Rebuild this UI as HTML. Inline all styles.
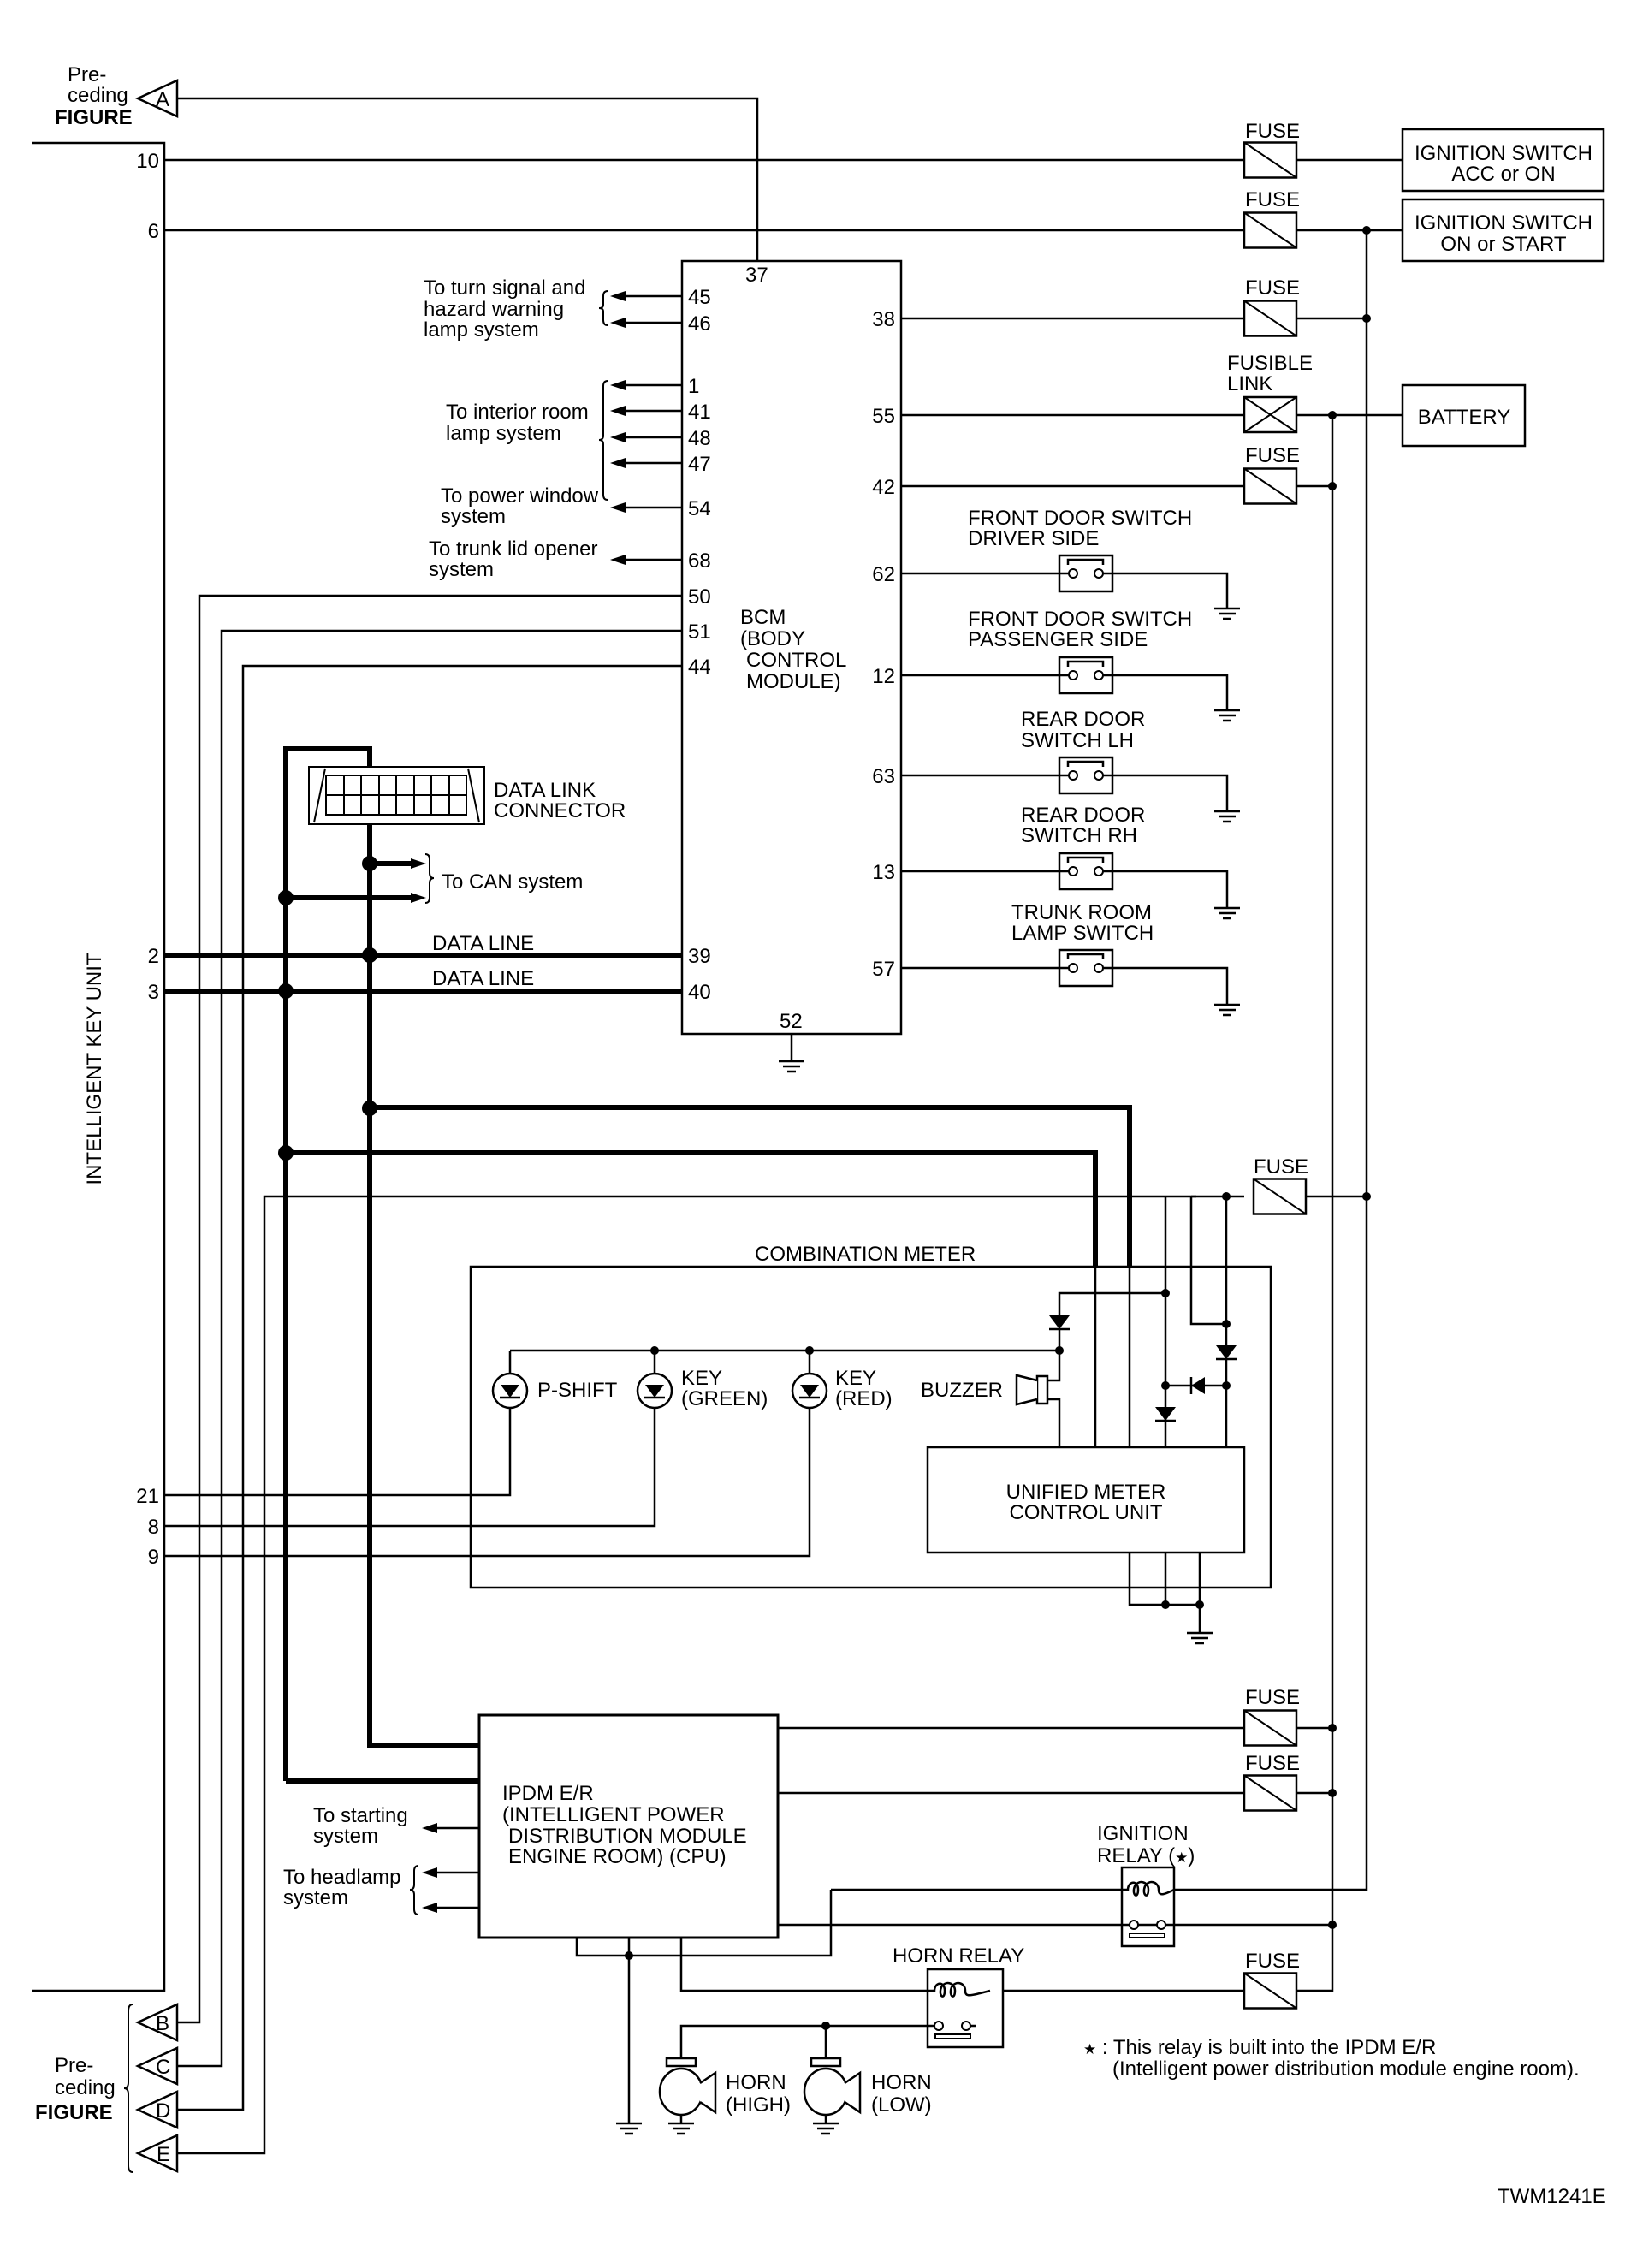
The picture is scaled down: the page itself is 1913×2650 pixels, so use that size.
<!DOCTYPE html>
<html><head><meta charset="utf-8"><style>
html,body{margin:0;padding:0;background:#fff;}
svg{display:block;}
text{font-family:"Liberation Sans",Arial,sans-serif;font-size:24px;fill:#000;}
.b{font-weight:bold;}
</style></head><body>
<svg width="1913" height="2650" viewBox="0 0 1913 2650" xmlns="http://www.w3.org/2000/svg">
<defs>
<g id="gnd"><path d="M-15 0H15M-10 6H10M-5 12H5" stroke="#000" stroke-width="2.5" fill="none"/></g>
<g id="fuse"><rect x="0" y="-20.5" width="61" height="41" fill="#fff" stroke="#000" stroke-width="2.5"/><path d="M0 -20.5L61 20.5" stroke="#000" stroke-width="2"/></g>
<g id="sw"><rect x="-31" y="-21" width="62" height="42" fill="#fff" stroke="#000" stroke-width="2.5"/><path d="M-31 0H-20M20 0H31M-21 -10V-16H20V-10" stroke="#000" stroke-width="2.5" fill="none"/><circle cx="-15" cy="0" r="5" fill="#fff" stroke="#000" stroke-width="2"/><circle cx="15" cy="0" r="5" fill="#fff" stroke="#000" stroke-width="2"/></g>
<g id="dd"><path d="M-12 -8H12L0 8Z" fill="#000"/><path d="M-12 8H12" stroke="#000" stroke-width="2.5"/></g>
<g id="lamp"><circle r="20" fill="#fff" stroke="#000" stroke-width="2.5"/><path d="M-11 -7H11L0 8Z" fill="#000"/><path d="M-12 8H12" stroke="#000" stroke-width="2.5"/></g>
<g id="dot"><circle r="5" fill="#000"/></g>
<g id="bdot"><circle r="9" fill="#000"/></g>
<g id="al"><path d="M0 0L18 -6L18 6Z" fill="#000"/></g>
<g id="ar"><path d="M0 0L-18 -6L-18 6Z" fill="#000"/></g>
<g id="horn"><rect x="-17" y="-39" width="34" height="9" fill="#fff" stroke="#000" stroke-width="2.5"/><ellipse cx="0" cy="0" rx="25" ry="27" fill="#fff" stroke="#000" stroke-width="2.5"/><path d="M22 -10L40 -22V24L22 12" fill="#fff" stroke="#000" stroke-width="2.5"/><path d="M0 27V37" stroke="#000" stroke-width="2.5"/><use href="#gnd" y="37"/></g>
<g id="tri"><path d="M0 0L46 -21V21Z" fill="#fff" stroke="#000" stroke-width="2.5"/></g>
</defs>

<g stroke="#000" stroke-width="2.5" fill="none">
<path d="M37 167H192V2326H37"/>
<path d="M207 115H885V305"/>
<path d="M192 187H1454M1515 187H1639"/>
<path d="M192 269H1454M1515 269H1639"/>
<rect x="797" y="305" width="256" height="903"/>
<path d="M1053 372H1454M1515 372H1597"/>
<path d="M1053 485H1454M1515 485H1639"/>
<path d="M1053 568H1454M1515 568H1557"/>
<path d="M1597 269V2208H1372"/>
<path d="M1557 485V2326H1515"/>
<path d="M1053 670H1238M1300 670H1434V711"/>
<path d="M1053 789H1238M1300 789H1434V830"/>
<path d="M1053 906H1238M1300 906H1434V948"/>
<path d="M1053 1018H1238M1300 1018H1434V1061"/>
<path d="M1053 1131H1238M1300 1131H1434V1174"/>
<path d="M797 346H720M797 377H720M797 450H720M797 480H720M797 511H720M797 541H720M797 593H720M797 654H720"/>
<path d="M797 696H233V2363H207"/>
<path d="M797 737H259V2414H207"/>
<path d="M797 778H284V2465H207"/>
<path d="M1398 1398H309V2516H207"/>
<path d="M925 1208V1240"/>
<rect x="550" y="1480" width="935" height="375"/>
<path d="M596 1578H1238M596 1578V1605M765 1578V1605M946 1578V1605"/>
<path d="M596 1645V1747H192M765 1645V1783H192M946 1645V1818H192"/>
<path d="M1362 1511H1238V1613H1224M1224 1635H1238V1691"/>
<path d="M1362 1398V1691M1392 1398V1547H1433M1433 1398V1691M1392 1398H1454M1526 1398H1597"/>
<path d="M1362 1619H1433"/>
<path d="M1280 1480V1691M1320 1480V1691"/>
<rect x="1084" y="1691" width="370" height="123" fill="#fff"/>
<path d="M1320 1814V1875H1402M1362 1814V1875M1402 1814V1908"/>
<rect x="560" y="2004" width="349" height="260" stroke-width="3"/>
<path d="M909 2019H1454M1515 2019H1557M909 2095H1454M1515 2095H1557"/>
<path d="M909 2249H1311M1372 2249H1557"/>
<path d="M971 2208H1311M971 2208V2285H674V2264M735 2264V2481"/>
<path d="M796 2264V2326H1084M1172 2326H1454"/>
<path d="M1157 2326V2367H1140M1084 2367H796V2405M965 2367V2405"/>
<path d="M560 2136H505M560 2188H505M560 2229H505"/>
</g>
<g stroke="#000" stroke-width="6" fill="none">
<path d="M334 2081V875H432V896"/>
<path d="M334 2081H560M432 963V2040H560"/>
<path d="M192 1116H797M192 1158H797"/>
<path d="M432 1294H1320V1480"/>
<path d="M334 1347H1280V1480"/>
<path d="M432 1009H480M334 1049H480"/>
</g>
<use href="#al" x="713" y="346"/><use href="#al" x="713" y="377"/><use href="#al" x="713" y="450"/><use href="#al" x="713" y="480"/><use href="#al" x="713" y="511"/><use href="#al" x="713" y="541"/><use href="#al" x="713" y="593"/><use href="#al" x="713" y="654"/>
<use href="#ar" x="498" y="1009"/><use href="#ar" x="498" y="1049"/>
<use href="#al" x="493" y="2136"/><use href="#al" x="493" y="2188"/><use href="#al" x="493" y="2229"/>

<use href="#fuse" x="1454" y="187"/><use href="#fuse" x="1454" y="269"/><use href="#fuse" x="1454" y="372"/><use href="#fuse" x="1454" y="568"/>
<use href="#fuse" x="1465" y="1398"/>
<use href="#fuse" x="1454" y="2019"/><use href="#fuse" x="1454" y="2095"/><use href="#fuse" x="1454" y="2326"/>
<g><rect x="1454" y="464" width="61" height="41" fill="#fff" stroke="#000" stroke-width="2.5"/><path d="M1454 464L1515 505M1515 464L1454 505" stroke="#000" stroke-width="2"/></g>
<use href="#sw" x="1269" y="670"/><use href="#sw" x="1269" y="789"/><use href="#sw" x="1269" y="906"/><use href="#sw" x="1269" y="1018"/><use href="#sw" x="1269" y="1131"/>
<use href="#gnd" x="1434" y="711"/><use href="#gnd" x="1434" y="830"/><use href="#gnd" x="1434" y="948"/><use href="#gnd" x="1434" y="1061"/><use href="#gnd" x="1434" y="1174"/>
<use href="#gnd" x="925" y="1240"/><use href="#gnd" x="1402" y="1908"/><use href="#gnd" x="735" y="2481"/>
<g fill="none" stroke="#000" stroke-width="2.5">
<rect x="1639" y="151" width="235" height="72"/>
<rect x="1639" y="233" width="235" height="72"/>
<rect x="1639" y="450" width="143" height="71"/>
</g>
<use href="#dot" x="1597" y="269"/><use href="#dot" x="1597" y="372"/><use href="#dot" x="1557" y="485"/><use href="#dot" x="1557" y="568"/>
<use href="#dot" x="1433" y="1398"/><use href="#dot" x="1597" y="1398"/>
<use href="#dot" x="1362" y="1511"/><use href="#dot" x="1238" y="1578"/><use href="#dot" x="765" y="1578"/><use href="#dot" x="946" y="1578"/>
<use href="#dot" x="1433" y="1547"/><use href="#dot" x="1362" y="1619"/><use href="#dot" x="1433" y="1619"/>
<use href="#dot" x="1362" y="1875"/><use href="#dot" x="1402" y="1875"/>
<use href="#dot" x="1557" y="2019"/><use href="#dot" x="1557" y="2095"/><use href="#dot" x="1557" y="2249"/>
<use href="#dot" x="735" y="2285"/><use href="#dot" x="1157" y="2326"/><use href="#dot" x="965" y="2367"/>
<use href="#bdot" x="432" y="1009"/><use href="#bdot" x="334" y="1049"/><use href="#bdot" x="432" y="1116"/><use href="#bdot" x="334" y="1158"/><use href="#bdot" x="432" y="1295"/><use href="#bdot" x="334" y="1347"/>
<use href="#dd" x="1238" y="1545"/><use href="#dd" x="1433" y="1580"/><use href="#dd" x="1362" y="1652"/>
<g><path d="M1392 1619L1408 1609V1629Z" fill="#000"/><path d="M1392 1609V1629" stroke="#000" stroke-width="2.5"/></g>
<use href="#lamp" x="596" y="1625"/><use href="#lamp" x="765" y="1625"/><use href="#lamp" x="946" y="1625"/>
<rect x="1212" y="1608" width="12" height="32" fill="#fff" stroke="#000" stroke-width="2.5"/>
<path d="M1212 1613L1188 1607V1641L1212 1635" fill="#fff" stroke="#000" stroke-width="2.5"/>
<g fill="#fff" stroke="#000" stroke-width="2">
<rect x="361" y="896" width="205" height="67"/>
<path d="M380 898L367 961M547 898L560 961"/>
<rect x="381" y="906" width="164" height="46"/>
<path d="M381 929H545M402 906V952M422 906V952M443 906V952M463 906V952M484 906V952M504 906V952M525 906V952"/>
</g>
<g fill="#fff" stroke="#000" stroke-width="2.5">
<rect x="1311" y="2182" width="61" height="92"/>
<rect x="1084" y="2301" width="88" height="91"/>
</g>
<g fill="none" stroke="#000" stroke-width="2.5">
<path d="M1311 2208H1318C1318 2198 1330 2196 1330 2208C1330 2220 1322 2214 1326 2204C1330 2196 1342 2198 1342 2208C1342 2220 1334 2214 1338 2204C1342 2196 1354 2198 1354 2208C1354 2216 1360 2214 1372 2208"/>
<path d="M1311 2249H1320M1330 2249H1352M1362 2249H1372"/>
<path d="M1084 2326H1092C1092 2316 1104 2314 1104 2326C1104 2338 1096 2332 1100 2322C1104 2314 1116 2316 1116 2326C1116 2338 1108 2332 1112 2322C1116 2314 1128 2316 1128 2326C1128 2334 1134 2332 1157 2326"/>
<path d="M1084 2367H1092M1134 2367H1140"/>
</g>
<g fill="#fff" stroke="#000" stroke-width="2"><circle cx="1325" cy="2249" r="5"/><circle cx="1357" cy="2249" r="5"/><circle cx="1097" cy="2367" r="5"/><circle cx="1129" cy="2367" r="5"/><rect x="1320" y="2259" width="41" height="5"/><rect x="1093" y="2377" width="41" height="5"/></g>
<use href="#horn" x="796" y="2444"/><use href="#horn" x="965" y="2444"/>
<use href="#tri" x="161" y="115"/><use href="#tri" x="161" y="2363"/><use href="#tri" x="161" y="2414"/><use href="#tri" x="161" y="2465"/><use href="#tri" x="161" y="2516"/>
<text x="182" y="124" font-size="23">A</text><text x="182" y="2372" font-size="23">B</text><text x="182" y="2423" font-size="23">C</text><text x="182" y="2474" font-size="23">D</text><text x="183" y="2525" font-size="23">E</text>
<g fill="none" stroke="#000" stroke-width="2">
<path d="M710 340Q705 340 705 346V356Q705 360 700 360Q705 360 705 364V374Q705 380 710 380"/>
<path d="M710 445Q705 445 705 451V509Q705 514 700 514Q705 514 705 519V578Q705 584 710 584"/>
<path d="M497 998Q502 998 502 1004V1020Q502 1026 507 1026Q502 1026 502 1032V1049Q502 1055 497 1055"/>
<path d="M489 2180Q484 2180 484 2186V2202Q484 2208 479 2208Q484 2208 484 2214V2231Q484 2237 489 2237"/>
<path d="M155 2342Q150 2342 150 2350V2433Q150 2440 145 2440Q150 2440 150 2447V2530Q150 2538 155 2538"/>
</g>

<text x="79" y="95">Pre-</text><text x="79" y="119">ceding</text><text x="64" y="145" class="b">FIGURE</text>
<text x="64" y="2421">Pre-</text><text x="64" y="2447">ceding</text><text x="41" y="2476" class="b">FIGURE</text>
<g text-anchor="end"><text x="186" y="196">10</text><text x="186" y="278">6</text><text x="186" y="1125">2</text><text x="186" y="1167">3</text><text x="186" y="1756">21</text><text x="186" y="1792">8</text><text x="186" y="1827">9</text>
<text x="1046" y="381">38</text><text x="1046" y="494">55</text><text x="1046" y="577">42</text><text x="1046" y="679">62</text><text x="1046" y="798">12</text><text x="1046" y="915">63</text><text x="1046" y="1027">13</text><text x="1046" y="1140">57</text></g>
<text x="871" y="329">37</text>
<g><text x="804" y="355">45</text><text x="804" y="386">46</text><text x="804" y="459">1</text><text x="804" y="489">41</text><text x="804" y="520">48</text><text x="804" y="550">47</text><text x="804" y="602">54</text><text x="804" y="663">68</text><text x="804" y="705">50</text><text x="804" y="746">51</text><text x="804" y="787">44</text><text x="804" y="1125">39</text><text x="804" y="1167">40</text></g>
<text x="495" y="344">To turn signal and</text><text x="495" y="369">hazard warning</text><text x="495" y="393">lamp system</text>
<text x="521" y="489">To interior room</text><text x="521" y="514">lamp system</text>
<text x="515" y="587">To power window</text><text x="515" y="611">system</text>
<text x="501" y="649">To trunk lid opener</text><text x="501" y="673">system</text>
<text x="865" y="729">BCM</text><text x="865" y="754">(BODY</text><text x="872" y="779">CONTROL</text><text x="872" y="804">MODULE)</text>
<text x="911" y="1201">52</text>
<text x="577" y="931">DATA LINK</text><text x="577" y="955">CONNECTOR</text>
<text x="516" y="1038">To CAN system</text>
<text x="505" y="1110">DATA LINE</text><text x="505" y="1151">DATA LINE</text>
<text transform="translate(118 1249) rotate(-90)" text-anchor="middle">INTELLIGENT KEY UNIT</text>
<g><text x="1455" y="161">FUSE</text><text x="1455" y="241">FUSE</text><text x="1455" y="344">FUSE</text><text x="1434" y="432">FUSIBLE</text><text x="1434" y="456">LINK</text><text x="1455" y="540">FUSE</text><text x="1465" y="1371">FUSE</text><text x="1455" y="1991">FUSE</text><text x="1455" y="2068">FUSE</text><text x="1455" y="2299">FUSE</text></g>
<g text-anchor="middle"><text x="1757" y="187">IGNITION SWITCH</text><text x="1757" y="211">ACC or ON</text><text x="1757" y="268">IGNITION SWITCH</text><text x="1757" y="293">ON or START</text><text x="1711" y="495">BATTERY</text>
<text x="1269" y="1751">UNIFIED METER</text><text x="1269" y="1775">CONTROL UNIT</text></g>
<text x="1131" y="613">FRONT DOOR SWITCH</text><text x="1131" y="637">DRIVER SIDE</text>
<text x="1131" y="731">FRONT DOOR SWITCH</text><text x="1131" y="755">PASSENGER SIDE</text>
<text x="1193" y="848">REAR DOOR</text><text x="1193" y="873">SWITCH LH</text>
<text x="1193" y="960">REAR DOOR</text><text x="1193" y="984">SWITCH RH</text>
<text x="1182" y="1074">TRUNK ROOM</text><text x="1182" y="1098">LAMP SWITCH</text>
<text x="882" y="1473">COMBINATION METER</text>
<text x="628" y="1632">P-SHIFT</text>
<text x="796" y="1618">KEY</text><text x="796" y="1642">(GREEN)</text>
<text x="976" y="1618">KEY</text><text x="976" y="1642">(RED)</text>
<text x="1076" y="1632">BUZZER</text>
<text x="587" y="2103">IPDM E/R</text><text x="587" y="2128">(INTELLIGENT POWER</text><text x="594" y="2153">DISTRIBUTION MODULE</text><text x="594" y="2177">ENGINE ROOM) (CPU)</text>
<text x="366" y="2129">To starting</text><text x="366" y="2153">system</text>
<text x="331" y="2201">To headlamp</text><text x="331" y="2225">system</text>
<text x="1282" y="2150">IGNITION</text><text x="1282" y="2176">RELAY (<tspan font-size="17">★</tspan>)</text>
<text x="1043" y="2293">HORN RELAY</text>
<text x="848" y="2441">HORN</text><text x="848" y="2467">(HIGH)</text>
<text x="1018" y="2441">HORN</text><text x="1018" y="2467">(LOW)</text>
<text x="1266" y="2400"><tspan font-size="17">★</tspan> : This relay is built into the IPDM E/R</text>
<text x="1300" y="2425">(Intelligent power distribution module engine room).</text>
<text x="1750" y="2574" font-size="17">TWM1241E</text>
</svg>
</body></html>
